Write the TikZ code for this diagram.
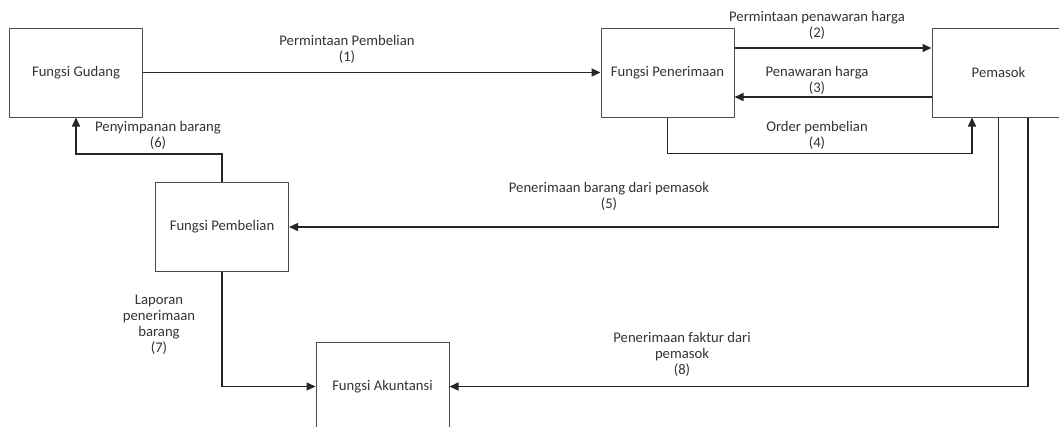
\documentclass[tikz,border=0pt]{standalone}
\usepackage{fontspec}
\setmainfont{Carlito}
\usetikzlibrary{arrows.meta}
\tikzset{
  fungsi/.style={draw=black!70, line width=1pt, minimum width=133pt, minimum height=89pt, inner sep=0pt, text=black!80},
  alur/.style={draw=black!85, line width=1.5pt, -{Triangle[length=9pt,width=8pt]}},
  ket/.style={align=center, text=black!80, inner sep=0pt},
}
\begin{document}
\begin{tikzpicture}[x=1pt, y=-1pt, font=\fontsize{14.7}{16}\selectfont]
  \useasboundingbox (0,0) rectangle (1059,426);
  % kotak fungsi
  \node[fungsi] (gudang) at (76,72.5) {Fungsi Gudang};
  \node[fungsi] (penerimaan) at (667.5,72.5) {Fungsi Penerimaan};
  \node[fungsi] (pemasok) at (998.5,72.5) {Pemasok};
  \node[fungsi] (pembelian) at (222,227) {Fungsi Pembelian};
  \node[fungsi] (akuntansi) at (382.5,386.5) {Fungsi Akuntansi};
  % alur
  \draw[alur] (gudang.east) -- (penerimaan.west);
  \draw[alur] ([yshift=24.5pt]penerimaan.east) -- ([yshift=24.5pt]pemasok.west);
  \draw[alur] ([yshift=-24.5pt]pemasok.west) -- ([yshift=-24.5pt]penerimaan.east);
  \draw[alur] (penerimaan.south) -- ++(0,36) -| ([xshift=-26.5pt]pemasok.south);
  \draw[alur] (pemasok.south) |- (pembelian.east);
  \draw[alur] (pembelian.north) -- ++(0,-28) -| (gudang.south);
  \draw[alur] (pembelian.south) |- (akuntansi.west);
  \draw[alur] ([xshift=29.5pt]pemasok.south) |- (akuntansi.east);
  % keterangan
  \node[ket] (k1) at (347,49.5) {Permintaan Pembelian\\(1)};
  \node[ket] (k2) at (817,25) {Permintaan penawaran harga\\(2)};
  \node[ket] (k3) at (817,80) {Penawaran harga\\(3)};
  \node[ket] (k4) at (817,135) {Order pembelian\\(4)};
  \node[ket] (k5) at (609,196) {Penerimaan barang dari pemasok\\(5)};
  \node[ket] (k6) at (158,135.5) {Penyimpanan barang\\(6)};
  \node[ket] (k7) at (159,324.5) {Laporan\\penerimaan\\barang\\(7)};
  \node[ket] (k8) at (682,354) {Penerimaan faktur dari\\pemasok\\(8)};
\end{tikzpicture}
\end{document}
